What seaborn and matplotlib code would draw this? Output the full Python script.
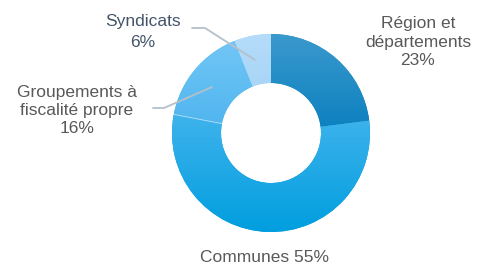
import numpy as np
import matplotlib
matplotlib.use("Agg")
import matplotlib.pyplot as plt
import seaborn as sns
from matplotlib.colors import LinearSegmentedColormap

# Data
categories = ["Région et départements", "Communes", "Groupements à fiscalité propre", "Syndicats"]
values = [23, 55, 16, 6]
label_lines = [["Région et", "départements", "23%"],
               ["Communes 55%"],
               ["Groupements à", "fiscalité propre", "16%"],
               ["Syndicats", "6%"]]
# gradient (top, bottom) colours per slice
grad_top = ["#3b99cd", "#3fb3ec", "#72c6f6", "#b5dcfa"]
grad_bot = ["#0a80bf", "#009edf", "#4db4ee", "#9ecff3"]
text_colors = ["#595959", "#595959", "#595959", "#44546a"]

sns.set_theme(style="white")
plt.rcParams['font.family'] = ['Liberation Sans', 'DejaVu Sans']

W, H = 481, 266
fig = plt.figure(figsize=(W / 100, H / 100), dpi=100)
ax = fig.add_axes([0, 0, 1, 1])

cx, cy, R, r_in = 271, H - 133, 99, 50
wedges, _ = ax.pie(values, startangle=90, counterclock=False, center=(cx, cy),
                   radius=R, wedgeprops=dict(width=R - r_in, edgecolor="none"),
                   colors=grad_bot)
ax.set_xlim(0, W)
ax.set_ylim(0, H)
ax.set_aspect("equal")
ax.axis("off")

# vertical gradients clipped to each wedge
for w, ct, cb in zip(wedges, grad_top, grad_bot):
    verts = w.get_path().vertices
    x0, x1 = verts[:, 0].min(), verts[:, 0].max()
    y0, y1 = verts[:, 1].min(), verts[:, 1].max()
    cmap = LinearSegmentedColormap.from_list("g", [cb, ct])
    grad = np.linspace(0, 1, 256).reshape(-1, 1)
    im = ax.imshow(grad, cmap=cmap, origin="lower", aspect="auto",
                   extent=(x0, x1, y0, y1), zorder=w.get_zorder() + 0.1,
                   interpolation="bilinear")
    im.set_clip_path(w)
ax.set_xlim(0, W)
ax.set_ylim(0, H)

# thin separator between Communes and Groupements
ang = np.deg2rad(90 - 360 * sum(values[:2]) / 100)
ax.plot([cx + r_in * np.cos(ang), cx + R * np.cos(ang)],
        [cy + r_in * np.sin(ang), cy + R * np.sin(ang)],
        color="white", lw=0.6, alpha=0.6, zorder=5)

# labels (pixel positions: center x, baselines from top)
label_pos = [(418, [28, 47, 65]), (265, [262]), (77, [97, 115, 133]), (143, [26, 47])]
for lines, (x, ys), col in zip(label_lines, label_pos, text_colors):
    for line, yb in zip(lines, ys):
        ax.text(x, H - yb, line, ha="center", va="baseline", fontsize=12.5,
                color=col, zorder=10)

# leader lines
lc = "#b4c0ca"
ax.plot([153, 164, 212], [H - 108, H - 108, H - 87], color=lc, lw=1.3, zorder=6)
ax.plot([192, 205, 255], [H - 28, H - 28, H - 60], color=lc, lw=1.3, zorder=6)

fig.savefig("out.png", dpi=100)
